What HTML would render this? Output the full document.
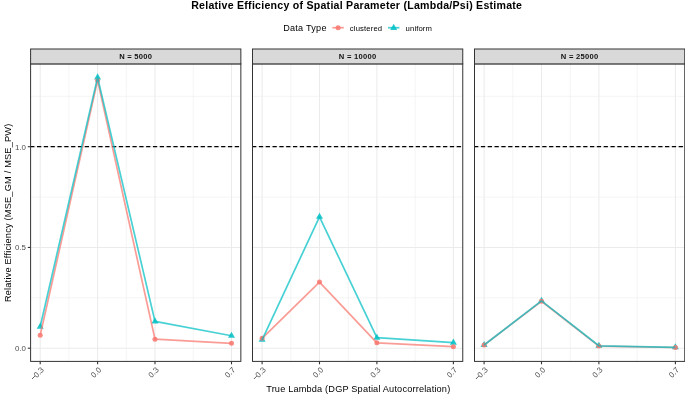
<!DOCTYPE html>
<html><head><meta charset="utf-8"><title>Relative Efficiency</title>
<style>
html,body{margin:0;padding:0;background:#fff;}
svg{display:block;font-family:"Liberation Sans",sans-serif;will-change:transform;filter:grayscale(0);}
text{font-family:"Liberation Sans",sans-serif;}
</style></head><body>
<svg width="685" height="396" viewBox="0 0 685 396">
<rect x="0" y="0" width="685" height="396" fill="#ffffff"/>
<text x="191.2" y="8.75" font-size="10.6" letter-spacing="0.25" font-weight="bold" fill="#000">Relative Efficiency of Spatial Parameter (Lambda/Psi) Estimate</text>
<text x="283.2" y="30.85" font-size="9.1" letter-spacing="0.25" fill="#000">Data Type</text>
<g opacity="1"><line x1="332.4" y1="27.7" x2="343.8" y2="27.7" stroke="#F8766D" stroke-opacity="0.72" stroke-width="1.7"/><circle cx="338.1" cy="27.7" r="2.5" fill="#F8766D" fill-opacity="0.85"/></g>
<text x="349.8" y="30.6" font-size="7.7" letter-spacing="0.14" fill="#000">clustered</text>
<g><line x1="388" y1="27.7" x2="399.4" y2="27.7" stroke="#00BFC4" stroke-opacity="0.72" stroke-width="1.7"/><polygon points="393.70,23.85 397.21,29.92 390.19,29.92" fill="#00BFC4" fill-opacity="0.85"/></g>
<text x="405.6" y="30.6" font-size="7.7" letter-spacing="0.12" fill="#000">uniform</text>
<text transform="translate(10.75,212.8) rotate(-90)" text-anchor="middle" font-size="9.2" letter-spacing="0.21" fill="#000">Relative Efficiency (MSE_GM / MSE_PW)</text>
<text x="358.3" y="391.5" text-anchor="middle" font-size="9.2" letter-spacing="0.17" fill="#000">True Lambda (DGP Spatial Autocorrelation)</text>
<text x="26" y="351.05" text-anchor="end" font-size="7.9" fill="#4D4D4D">0.0</text>
<line x1="27.8" y1="348.20" x2="30.6" y2="348.20" stroke="#333333" stroke-width="1.1"/>
<text x="26" y="250.30" text-anchor="end" font-size="7.9" fill="#4D4D4D">0.5</text>
<line x1="27.8" y1="247.45" x2="30.6" y2="247.45" stroke="#333333" stroke-width="1.1"/>
<text x="26" y="149.55" text-anchor="end" font-size="7.9" fill="#4D4D4D">1.0</text>
<line x1="27.8" y1="146.70" x2="30.6" y2="146.70" stroke="#333333" stroke-width="1.1"/>
<g>
<rect x="30.6" y="63.9" width="210.25" height="297.50" fill="#fff"/>
<line x1="30.6" y1="297.82" x2="240.85" y2="297.82" stroke="#EBEBEB" stroke-width="0.55"/>
<line x1="30.6" y1="197.07" x2="240.85" y2="197.07" stroke="#EBEBEB" stroke-width="0.55"/>
<line x1="30.6" y1="96.32" x2="240.85" y2="96.32" stroke="#EBEBEB" stroke-width="0.55"/>
<line x1="68.90" y1="63.9" x2="68.90" y2="361.4" stroke="#EBEBEB" stroke-width="0.55"/>
<line x1="126.28" y1="63.9" x2="126.28" y2="361.4" stroke="#EBEBEB" stroke-width="0.55"/>
<line x1="193.24" y1="63.9" x2="193.24" y2="361.4" stroke="#EBEBEB" stroke-width="0.55"/>
<line x1="30.6" y1="348.20" x2="240.85" y2="348.20" stroke="#EBEBEB" stroke-width="1.05"/>
<line x1="30.6" y1="247.45" x2="240.85" y2="247.45" stroke="#EBEBEB" stroke-width="1.05"/>
<line x1="30.6" y1="146.70" x2="240.85" y2="146.70" stroke="#EBEBEB" stroke-width="1.05"/>
<line x1="40.20" y1="63.9" x2="40.20" y2="361.4" stroke="#EBEBEB" stroke-width="1.05"/>
<line x1="97.59" y1="63.9" x2="97.59" y2="361.4" stroke="#EBEBEB" stroke-width="1.05"/>
<line x1="154.98" y1="63.9" x2="154.98" y2="361.4" stroke="#EBEBEB" stroke-width="1.05"/>
<line x1="231.50" y1="63.9" x2="231.50" y2="361.4" stroke="#EBEBEB" stroke-width="1.05"/>
<line x1="30.17" y1="146.70" x2="240.85" y2="146.70" stroke="#000" stroke-width="1.2" stroke-dasharray="4.26 2.56"/>
<polygon points="40.20,322.59 43.71,328.66 36.69,328.66" fill="#00BFC4" fill-opacity="0.85"/>
<polygon points="97.59,73.33 101.10,79.41 94.08,79.41" fill="#00BFC4" fill-opacity="0.85"/>
<polygon points="154.98,317.35 158.49,323.43 151.47,323.43" fill="#00BFC4" fill-opacity="0.85"/>
<polygon points="231.50,331.72 235.01,337.79 227.99,337.79" fill="#00BFC4" fill-opacity="0.85"/>
<circle cx="40.20" cy="335.20" r="2.5" fill="#F8766D" fill-opacity="0.85"/>
<circle cx="97.59" cy="80.41" r="2.5" fill="#F8766D" fill-opacity="0.85"/>
<circle cx="154.98" cy="339.13" r="2.5" fill="#F8766D" fill-opacity="0.85"/>
<circle cx="231.50" cy="343.36" r="2.5" fill="#F8766D" fill-opacity="0.85"/>
<polyline points="40.20,335.20 97.59,80.41 154.98,339.13 231.50,343.36" fill="none" stroke="#F8766D" stroke-opacity="0.72" stroke-width="1.7" stroke-linejoin="round" stroke-linecap="butt"/>
<polyline points="40.20,326.64 97.59,77.38 154.98,321.40 231.50,335.77" fill="none" stroke="#00BFC4" stroke-opacity="0.72" stroke-width="1.7" stroke-linejoin="round" stroke-linecap="butt"/>
<rect x="30.6" y="63.9" width="210.25" height="297.50" fill="none" stroke="#333333" stroke-width="1.0"/>
<rect x="30.6" y="49.0" width="210.25" height="14.90" fill="#D9D9D9" stroke="#333333" stroke-width="1.0"/>
<text x="135.72" y="59.1" text-anchor="middle" font-size="7.6" font-weight="bold" letter-spacing="0.26" fill="#111">N = 5000</text>
<line x1="40.20" y1="361.4" x2="40.20" y2="364.29999999999995" stroke="#333333" stroke-width="1.1"/>
<g transform="translate(40.50,366.40) rotate(-45)"><text x="0" y="5.6" text-anchor="end" font-size="7.9" fill="#4D4D4D">0.3</text><line x1="-14.89" y1="2.91" x2="-10.79" y2="2.91" stroke="#4D4D4D" stroke-width="0.85"/></g>
<line x1="97.59" y1="361.4" x2="97.59" y2="364.29999999999995" stroke="#333333" stroke-width="1.1"/>
<g transform="translate(97.89,366.40) rotate(-45)"><text x="0" y="5.6" text-anchor="end" font-size="7.9" fill="#4D4D4D">0.0</text></g>
<line x1="154.98" y1="361.4" x2="154.98" y2="364.29999999999995" stroke="#333333" stroke-width="1.1"/>
<g transform="translate(155.28,366.40) rotate(-45)"><text x="0" y="5.6" text-anchor="end" font-size="7.9" fill="#4D4D4D">0.3</text></g>
<line x1="231.50" y1="361.4" x2="231.50" y2="364.29999999999995" stroke="#333333" stroke-width="1.1"/>
<g transform="translate(231.80,366.40) rotate(-45)"><text x="0" y="5.6" text-anchor="end" font-size="7.9" fill="#4D4D4D">0.7</text></g>
</g>
<g>
<rect x="252.5" y="63.9" width="210.25" height="297.50" fill="#fff"/>
<line x1="252.5" y1="297.82" x2="462.75" y2="297.82" stroke="#EBEBEB" stroke-width="0.55"/>
<line x1="252.5" y1="197.07" x2="462.75" y2="197.07" stroke="#EBEBEB" stroke-width="0.55"/>
<line x1="252.5" y1="96.32" x2="462.75" y2="96.32" stroke="#EBEBEB" stroke-width="0.55"/>
<line x1="290.80" y1="63.9" x2="290.80" y2="361.4" stroke="#EBEBEB" stroke-width="0.55"/>
<line x1="348.19" y1="63.9" x2="348.19" y2="361.4" stroke="#EBEBEB" stroke-width="0.55"/>
<line x1="415.14" y1="63.9" x2="415.14" y2="361.4" stroke="#EBEBEB" stroke-width="0.55"/>
<line x1="252.5" y1="348.20" x2="462.75" y2="348.20" stroke="#EBEBEB" stroke-width="1.05"/>
<line x1="252.5" y1="247.45" x2="462.75" y2="247.45" stroke="#EBEBEB" stroke-width="1.05"/>
<line x1="252.5" y1="146.70" x2="462.75" y2="146.70" stroke="#EBEBEB" stroke-width="1.05"/>
<line x1="262.10" y1="63.9" x2="262.10" y2="361.4" stroke="#EBEBEB" stroke-width="1.05"/>
<line x1="319.49" y1="63.9" x2="319.49" y2="361.4" stroke="#EBEBEB" stroke-width="1.05"/>
<line x1="376.88" y1="63.9" x2="376.88" y2="361.4" stroke="#EBEBEB" stroke-width="1.05"/>
<line x1="453.40" y1="63.9" x2="453.40" y2="361.4" stroke="#EBEBEB" stroke-width="1.05"/>
<line x1="252.07" y1="146.70" x2="462.75" y2="146.70" stroke="#000" stroke-width="1.2" stroke-dasharray="4.26 2.56"/>
<polygon points="262.10,335.79 265.61,341.86 258.59,341.86" fill="#00BFC4" fill-opacity="0.85"/>
<polygon points="319.49,212.77 323.00,218.85 315.98,218.85" fill="#00BFC4" fill-opacity="0.85"/>
<polygon points="376.88,333.67 380.39,339.75 373.37,339.75" fill="#00BFC4" fill-opacity="0.85"/>
<polygon points="453.40,338.61 456.91,344.68 449.89,344.68" fill="#00BFC4" fill-opacity="0.85"/>
<circle cx="262.10" cy="338.33" r="2.5" fill="#F8766D" fill-opacity="0.85"/>
<circle cx="319.49" cy="282.11" r="2.5" fill="#F8766D" fill-opacity="0.85"/>
<circle cx="376.88" cy="342.80" r="2.5" fill="#F8766D" fill-opacity="0.85"/>
<circle cx="453.40" cy="346.69" r="2.5" fill="#F8766D" fill-opacity="0.85"/>
<polyline points="262.10,338.33 319.49,282.11 376.88,342.80 453.40,346.69" fill="none" stroke="#F8766D" stroke-opacity="0.72" stroke-width="1.7" stroke-linejoin="round" stroke-linecap="butt"/>
<polyline points="262.10,339.84 319.49,216.82 376.88,337.72 453.40,342.66" fill="none" stroke="#00BFC4" stroke-opacity="0.72" stroke-width="1.7" stroke-linejoin="round" stroke-linecap="butt"/>
<rect x="252.5" y="63.9" width="210.25" height="297.50" fill="none" stroke="#333333" stroke-width="1.0"/>
<rect x="252.5" y="49.0" width="210.25" height="14.90" fill="#D9D9D9" stroke="#333333" stroke-width="1.0"/>
<text x="357.62" y="59.1" text-anchor="middle" font-size="7.6" font-weight="bold" letter-spacing="0.26" fill="#111">N = 10000</text>
<line x1="262.10" y1="361.4" x2="262.10" y2="364.29999999999995" stroke="#333333" stroke-width="1.1"/>
<g transform="translate(262.40,366.40) rotate(-45)"><text x="0" y="5.6" text-anchor="end" font-size="7.9" fill="#4D4D4D">0.3</text><line x1="-14.89" y1="2.91" x2="-10.79" y2="2.91" stroke="#4D4D4D" stroke-width="0.85"/></g>
<line x1="319.49" y1="361.4" x2="319.49" y2="364.29999999999995" stroke="#333333" stroke-width="1.1"/>
<g transform="translate(319.79,366.40) rotate(-45)"><text x="0" y="5.6" text-anchor="end" font-size="7.9" fill="#4D4D4D">0.0</text></g>
<line x1="376.88" y1="361.4" x2="376.88" y2="364.29999999999995" stroke="#333333" stroke-width="1.1"/>
<g transform="translate(377.18,366.40) rotate(-45)"><text x="0" y="5.6" text-anchor="end" font-size="7.9" fill="#4D4D4D">0.3</text></g>
<line x1="453.40" y1="361.4" x2="453.40" y2="364.29999999999995" stroke="#333333" stroke-width="1.1"/>
<g transform="translate(453.70,366.40) rotate(-45)"><text x="0" y="5.6" text-anchor="end" font-size="7.9" fill="#4D4D4D">0.7</text></g>
</g>
<g>
<rect x="474.5" y="63.9" width="210.25" height="297.50" fill="#fff"/>
<line x1="474.5" y1="297.82" x2="684.75" y2="297.82" stroke="#EBEBEB" stroke-width="0.55"/>
<line x1="474.5" y1="197.07" x2="684.75" y2="197.07" stroke="#EBEBEB" stroke-width="0.55"/>
<line x1="474.5" y1="96.32" x2="684.75" y2="96.32" stroke="#EBEBEB" stroke-width="0.55"/>
<line x1="512.80" y1="63.9" x2="512.80" y2="361.4" stroke="#EBEBEB" stroke-width="0.55"/>
<line x1="570.19" y1="63.9" x2="570.19" y2="361.4" stroke="#EBEBEB" stroke-width="0.55"/>
<line x1="637.14" y1="63.9" x2="637.14" y2="361.4" stroke="#EBEBEB" stroke-width="0.55"/>
<line x1="474.5" y1="348.20" x2="684.75" y2="348.20" stroke="#EBEBEB" stroke-width="1.05"/>
<line x1="474.5" y1="247.45" x2="684.75" y2="247.45" stroke="#EBEBEB" stroke-width="1.05"/>
<line x1="474.5" y1="146.70" x2="684.75" y2="146.70" stroke="#EBEBEB" stroke-width="1.05"/>
<line x1="484.10" y1="63.9" x2="484.10" y2="361.4" stroke="#EBEBEB" stroke-width="1.05"/>
<line x1="541.49" y1="63.9" x2="541.49" y2="361.4" stroke="#EBEBEB" stroke-width="1.05"/>
<line x1="598.88" y1="63.9" x2="598.88" y2="361.4" stroke="#EBEBEB" stroke-width="1.05"/>
<line x1="675.40" y1="63.9" x2="675.40" y2="361.4" stroke="#EBEBEB" stroke-width="1.05"/>
<line x1="474.07" y1="146.70" x2="684.75" y2="146.70" stroke="#000" stroke-width="1.2" stroke-dasharray="4.26 2.56"/>
<polygon points="484.10,340.93 487.61,347.00 480.59,347.00" fill="#00BFC4" fill-opacity="0.85"/>
<polygon points="541.49,296.80 545.00,302.87 537.98,302.87" fill="#00BFC4" fill-opacity="0.85"/>
<polygon points="598.88,341.73 602.39,347.81 595.37,347.81" fill="#00BFC4" fill-opacity="0.85"/>
<polygon points="675.40,343.24 678.91,349.32 671.89,349.32" fill="#00BFC4" fill-opacity="0.85"/>
<circle cx="484.10" cy="344.98" r="2.5" fill="#F8766D" fill-opacity="0.85"/>
<circle cx="541.49" cy="301.25" r="2.5" fill="#F8766D" fill-opacity="0.85"/>
<circle cx="598.88" cy="346.08" r="2.5" fill="#F8766D" fill-opacity="0.85"/>
<circle cx="675.40" cy="347.49" r="2.5" fill="#F8766D" fill-opacity="0.85"/>
<polyline points="484.10,344.98 541.49,301.25 598.88,346.08 675.40,347.49" fill="none" stroke="#F8766D" stroke-opacity="0.72" stroke-width="1.7" stroke-linejoin="round" stroke-linecap="butt"/>
<polyline points="484.10,344.98 541.49,300.85 598.88,345.78 675.40,347.29" fill="none" stroke="#00BFC4" stroke-opacity="0.72" stroke-width="1.7" stroke-linejoin="round" stroke-linecap="butt"/>
<rect x="474.5" y="63.9" width="210.25" height="297.50" fill="none" stroke="#333333" stroke-width="1.0"/>
<rect x="474.5" y="49.0" width="210.25" height="14.90" fill="#D9D9D9" stroke="#333333" stroke-width="1.0"/>
<text x="579.62" y="59.1" text-anchor="middle" font-size="7.6" font-weight="bold" letter-spacing="0.26" fill="#111">N = 25000</text>
<line x1="484.10" y1="361.4" x2="484.10" y2="364.29999999999995" stroke="#333333" stroke-width="1.1"/>
<g transform="translate(484.40,366.40) rotate(-45)"><text x="0" y="5.6" text-anchor="end" font-size="7.9" fill="#4D4D4D">0.3</text><line x1="-14.89" y1="2.91" x2="-10.79" y2="2.91" stroke="#4D4D4D" stroke-width="0.85"/></g>
<line x1="541.49" y1="361.4" x2="541.49" y2="364.29999999999995" stroke="#333333" stroke-width="1.1"/>
<g transform="translate(541.79,366.40) rotate(-45)"><text x="0" y="5.6" text-anchor="end" font-size="7.9" fill="#4D4D4D">0.0</text></g>
<line x1="598.88" y1="361.4" x2="598.88" y2="364.29999999999995" stroke="#333333" stroke-width="1.1"/>
<g transform="translate(599.18,366.40) rotate(-45)"><text x="0" y="5.6" text-anchor="end" font-size="7.9" fill="#4D4D4D">0.3</text></g>
<line x1="675.40" y1="361.4" x2="675.40" y2="364.29999999999995" stroke="#333333" stroke-width="1.1"/>
<g transform="translate(675.70,366.40) rotate(-45)"><text x="0" y="5.6" text-anchor="end" font-size="7.9" fill="#4D4D4D">0.7</text></g>
</g>
</svg>
</body></html>
